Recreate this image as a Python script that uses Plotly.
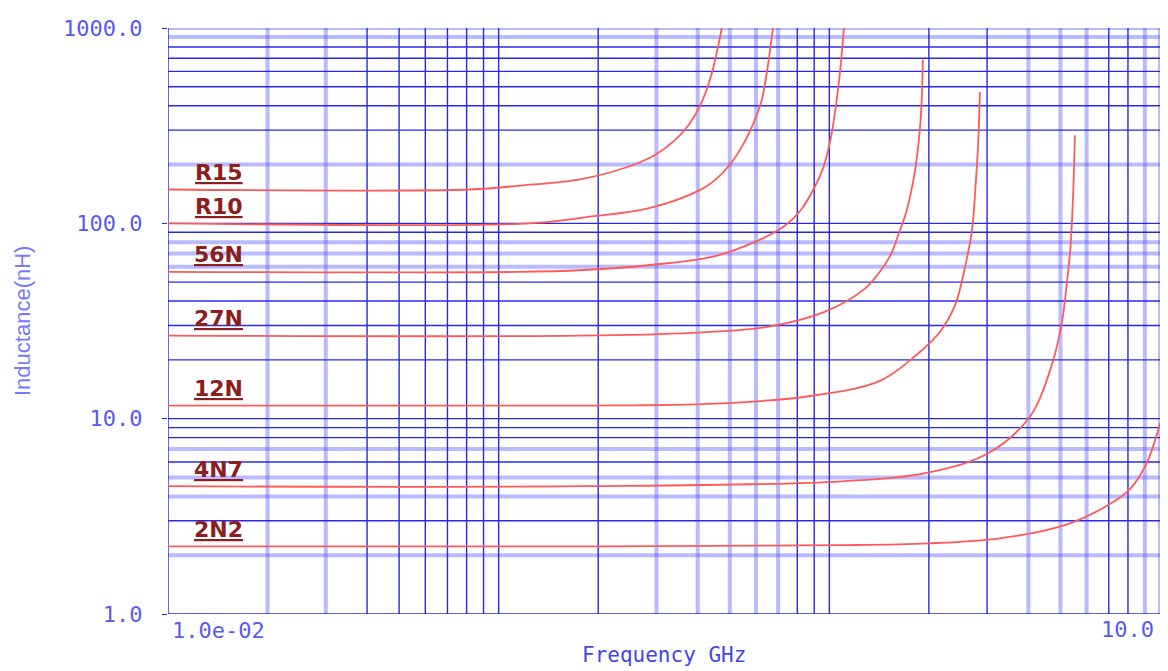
import math
import plotly.graph_objects as go

# ---------------- data ----------------
names = ["R15", "R10", "56N", "27N", "12N", "4N7", "2N2"]

f_R15 = [0.01, 0.0818, 0.116, 0.176, 0.24, 0.297, 0.34, 0.376, 0.406, 0.439, 0.473]
L_R15 = [149, 149, 156, 168, 192, 224, 265, 320, 398, 570, 1000]

f_R10 = [0.01, 0.124, 0.180, 0.287, 0.406, 0.45, 0.500, 0.55, 0.600, 0.625, 0.648, 0.675]
L_R10 = [100, 100, 107, 120, 148, 166, 199.5, 255, 350, 430, 600, 1000]

f_56N = [0.01, 0.1136, 0.180, 0.287, 0.463, 0.719, 0.82, 0.911, 0.96, 1.011, 1.069, 1.107]
L_56N = [56.4, 56.4, 57.7, 61.2, 68.7, 95, 117, 158, 194, 275, 530, 1000]

f_27N = [0.01, 0.176, 0.384, 0.648, 0.963, 1.281, 1.463, 1.536, 1.62, 1.705, 1.77, 1.828, 1.892, 1.918]
L_27N = [26.6, 26.6, 27.5, 29.5, 35.1, 46.3, 60.5, 69.5, 88, 113, 147, 200, 356, 690]

f_12N = [0.01, 0.176, 0.451, 0.844, 1.422, 1.840, 2.159, 2.398, 2.588, 2.70, 2.775, 2.82, 2.853]
L_12N = [11.66, 11.66, 11.94, 12.95, 15.6, 21.3, 27.8, 38.0, 62.6, 92, 165, 260, 470]

f_4N7 = [0.01, 0.176, 1.092, 2.0, 3.039, 4.044, 4.713, 5.051, 5.23, 5.36, 5.44, 5.50, 5.529]
L_4N7 = [4.51, 4.51, 4.78, 5.31, 6.69, 10.27, 18.97, 31.2, 49.7, 75, 120, 200, 282]

f_2N2 = [0.01, 0.176, 1.069, 2.0, 3.279, 5.12, 6.91, 8.11, 9.13, 10.0]
L_2N2 = [2.22, 2.22, 2.25, 2.30, 2.44, 2.84, 3.58, 4.36, 5.96, 9.47]

freqs = [f_R15, f_R10, f_56N, f_27N, f_12N, f_4N7, f_2N2]
inds = [L_R15, L_R10, L_56N, L_27N, L_12N, L_4N7, L_2N2]

y_tick_vals = [1, 10, 100, 1000]
y_tick_text = ["1.0", "10.0", "100.0", "1000.0"]
x_tick_text = ["1.0e-02", "10.0"]

x_decades = [0.01, 0.1, 1]
y_decades = [1, 10, 100]
x_light = [0.02, 0.03, 0.3, 0.4, 0.5, 0.6, 0.7, 4, 5, 6, 9, 10]
y_light = [2, 4, 5, 7, 60, 70, 80, 200, 900, 1000]

# ---------------- figure ----------------
X0, X1 = 0.01, 10.0
Y0, Y1 = 1.0, 1000.0

xg = [round(m * d, 6) for d in x_decades for m in range(1, 10)] + [10.0]
yg = [round(m * d, 6) for d in y_decades for m in range(1, 10)] + [1000.0]


def is_light(v, lst):
    return any(abs(v - u) / u < 1e-6 for u in lst)


def grid_xy(vals, light_list, vertical, want_light):
    xs, ys = [], []
    for v in vals:
        if is_light(v, light_list) != want_light:
            continue
        if vertical:
            xs += [v, v, None]
            ys += [Y0, Y1, None]
        else:
            xs += [X0, X1, None]
            ys += [v, v, None]
    return xs, ys


fig = go.Figure()

for want_light, color, width in [(True, "rgba(90,90,255,0.42)", 4),
                                 (False, "rgb(40,40,235)", 1.4)]:
    for vertical, vals, lst in [(True, xg, x_light), (False, yg, y_light)]:
        xs, ys = grid_xy(vals, lst, vertical, want_light)
        fig.add_trace(go.Scatter(x=xs, y=ys, mode="lines", hoverinfo="skip",
                                 line=dict(color=color, width=width),
                                 showlegend=False))

for name, f, L in zip(names, freqs, inds):
    fig.add_trace(go.Scatter(x=f, y=L, mode="lines", name=name,
                             line=dict(color="rgb(255,90,90)", width=1.8,
                                       shape="spline", smoothing=1.0),
                             showlegend=False))

label_font = dict(family="DejaVu Sans", size=22, color="rgb(140,30,30)",
                  weight="bold", lineposition="under")
for name, L in zip(names, inds):
    fig.add_annotation(x=0.051, xref="paper", y=math.log10(L[0]), yref="y",
                       text=name, showarrow=False, font=label_font,
                       xanchor="center", yanchor="middle", yshift=17)

tick_font = dict(family="DejaVu Sans Mono", size=22, color="rgb(90,90,240)")
fig.add_annotation(x=0, xref="paper", y=0, yref="paper", text=x_tick_text[0],
                   showarrow=False, xanchor="left", yanchor="middle",
                   xshift=2, yshift=-16, font=tick_font)
fig.add_annotation(x=1, xref="paper", y=0, yref="paper", text=x_tick_text[1],
                   showarrow=False, xanchor="right", yanchor="middle",
                   xshift=-4, yshift=-15, font=tick_font)

fig.add_annotation(x=0.5, xref="paper", y=0, yref="paper", text="Frequency GHz",
                   showarrow=False, xanchor="center", yanchor="middle",
                   yshift=-41,
                   font=dict(family="DejaVu Sans Mono", size=21,
                             color="rgb(70,70,230)"))
fig.add_annotation(x=0, xref="paper", y=0.5, yref="paper", text="Inductance(nH)",
                   showarrow=False, textangle=-90, xanchor="center",
                   yanchor="middle", xshift=-146,
                   font=dict(family="Liberation Sans Narrow, Liberation Sans, sans-serif",
                             size=22, color="rgb(120,120,255)"))

fig.update_xaxes(type="log", range=[math.log10(X0), math.log10(X1)],
                 showgrid=False, zeroline=False, showticklabels=False,
                 showline=False, ticks="")
fig.update_yaxes(type="log", range=[math.log10(Y0), math.log10(Y1)],
                 showgrid=False, zeroline=False, tickmode="array",
                 tickvals=y_tick_vals, ticktext=y_tick_text,
                 ticks="outside", ticklen=5, tickcolor="rgb(40,40,235)",
                 tickfont=tick_font, ticklabelstandoff=15, showline=False,
                 ticklabeloverflow="allow")

# the page body adds an 8 px margin, so the figure is sized to fit inside it
fig.update_layout(width=1160, height=663,
                  margin=dict(l=160, r=8, t=10, b=57, pad=0),
                  plot_bgcolor="white", paper_bgcolor="white")

fig.write_html("out.html")
